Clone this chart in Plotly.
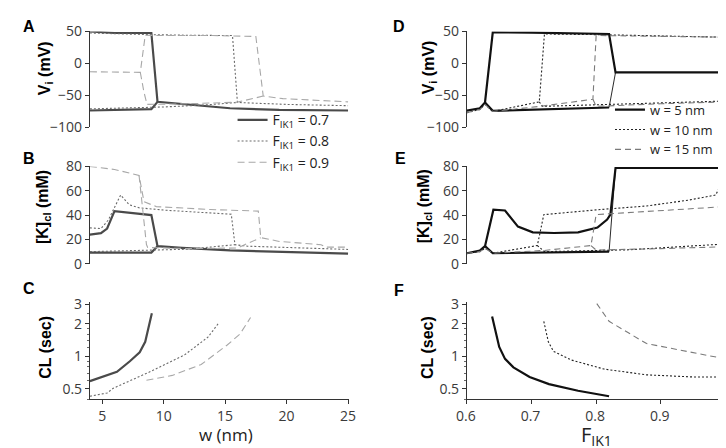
import plotly.graph_objects as go

# ---------------- data: left column (x = w in nm) ----------------
# Panel A: V_i (mV) for F_IK1 = 0.7 / 0.8 / 0.9 (upper = max, lower = min of oscillation)
A07_up_w = [4, 5, 6, 7, 8, 9, 9.5, 11.5, 15.4, 19.4, 25]
A07_up_v = [50, 48.5, 47.5, 47.5, 47.5, 47.5, -60, -63, -70, -72.5, -73.5]
A07_lo_w = [4, 6, 9, 9.5]
A07_lo_v = [-73.5, -72.5, -71.5, -60]

A08_up_w = [4, 6, 8.8, 12, 15.6, 16, 18, 20, 25]
A08_up_v = [47.5, 46, 45, 44, 43.5, -61, -63, -64, -66]
A08_lo_w = [4, 8, 10, 13.3, 16]
A08_lo_v = [-71, -69.5, -68, -65, -61]

A09_up_w = [4, 6, 8.1, 8.3, 8.5, 9.4, 14, 17.5, 18.1, 19.7, 22, 25]
A09_up_v = [-13, -13.5, -14, 15, 44, 43.6, 43.6, 42, -51, -55, -57, -60]
A09_lo_w = [8.1, 8.4, 8.65, 12, 16, 18.1]
A09_lo_v = [-14, -45, -64, -63, -60.5, -51]

# Panel B: [K]cl (mM)
B07_up_w = [4, 4.9, 5.4, 5.8, 6, 9, 9.5, 11.5, 15.4, 25]
B07_up_k = [24, 25.2, 29, 39, 43.3, 40, 14.5, 13.1, 11, 8.4]
B07_lo_w = [4, 9, 9.5]
B07_lo_k = [9.2, 9.2, 14.5]

B08_up_w = [4, 4.9, 5.5, 6.5, 7.2, 8, 10.2, 13.8, 15.5, 15.8, 16.8, 25]
B08_up_k = [29.5, 29, 36, 56.5, 48.5, 46, 44, 42, 40.7, 15.7, 14.5, 11.8]
B08_lo_w = [4, 8, 12, 15.8]
B08_lo_k = [10, 11, 12, 15.7]

B09_up_w = [4, 6, 8, 8.4, 9.4, 13.8, 17.7, 17.9, 19.4, 22.8, 23.2, 25]
B09_up_k = [80, 77.5, 72.6, 51, 47, 44.6, 43.3, 21.5, 18.4, 15.7, 13.7, 13.7]
B09_lo_w = [8, 8.3, 8.6, 8.7, 12, 16, 17.9]
B09_lo_k = [72.6, 45, 15.8, 13.4, 12.5, 13, 21.5]

# Panel C: CL (sec)
C07_w = [4, 5.4, 6.2, 7.25, 8.05, 8.5, 9.04]
C07_cl = [0.59, 0.665, 0.72, 0.9, 1.09, 1.36, 2.5]
C08_w = [4, 5.4, 5.9, 8.8, 11.7, 13.6, 14.5]
C08_cl = [0.428, 0.458, 0.507, 0.712, 1.03, 1.5, 2.04]
C09_w = [8.6, 10.7, 13.05, 15.17, 16.2, 17.07]
C09_cl = [0.6, 0.666, 0.84, 1.27, 1.6, 2.28]

# ---------------- data: right column (x = F_IK1) ----------------
D5_up_f = [0.6, 0.62, 0.628, 0.64, 0.7, 0.76, 0.82, 0.83, 1.0]
D5_up_v = [-73.6, -70, -61, 48.5, 48, 47, 46, -14, -14]
D5_lo_f = [0.628, 0.64, 0.82]
D5_lo_v = [-61, -74, -68.8]
D5_jump_f = [0.82, 0.83]
D5_jump_v = [-68.8, -14]

D10_up_f = [0.6, 0.62, 0.628, 0.64, 0.712, 0.72, 0.8, 0.9, 0.993, 1.0]
D10_up_v = [-77, -72, -64, -75, -60, 46, 45, 43, 41, -56]
D10_lo_f = [0.712, 0.717, 0.993, 1.0]
D10_lo_v = [-60, -67, -59, -56]

D15_up_f = [0.6, 0.62, 0.628, 0.64, 0.714, 0.795, 0.8, 0.9, 1.0]
D15_up_v = [-77, -72, -64, -75, -67, -56, 43.6, 42.5, 41]
D15_lo_f = [0.795, 0.8, 0.9, 1.0]
D15_lo_v = [-56, -67, -63, -60]

E5_up_f = [0.6, 0.62, 0.628, 0.641, 0.659, 0.679, 0.702, 0.735, 0.772, 0.802, 0.817, 0.822, 0.83, 1.0]
E5_up_k = [8.7, 10.8, 14.5, 44.4, 43.8, 30.6, 25.9, 25.3, 25.9, 29.8, 36.4, 40.4, 78.7, 78.7]
E5_lo_f = [0.628, 0.64, 0.82]
E5_lo_k = [14.5, 8.7, 10]
E5_jump_f = [0.82, 0.83]
E5_jump_k = [10, 78.7]

E10_up_f = [0.6, 0.62, 0.628, 0.64, 0.709, 0.719, 0.802, 0.878, 0.943, 0.985, 0.998]
E10_up_k = [8.7, 10, 12.7, 8.7, 15, 40.4, 44.4, 47.5, 52.3, 56.5, 70.7]
E10_lo_f = [0.709, 0.72, 0.85, 0.99, 0.998]
E10_lo_k = [15, 10, 11.5, 16, 70.7]

E15_up_f = [0.6, 0.62, 0.628, 0.64, 0.72, 0.792, 0.8, 0.9, 1.0]
E15_up_k = [8.7, 10, 12.7, 8.7, 11, 15, 40.4, 43.5, 47]
E15_lo_f = [0.792, 0.8, 0.9, 1.0]
E15_lo_k = [15, 11.3, 12.5, 14]

F5_f = [0.639, 0.650, 0.659, 0.672, 0.697, 0.727, 0.772, 0.82]
F5_cl = [2.33, 1.22, 0.946, 0.79, 0.643, 0.554, 0.481, 0.428]
F10_f = [0.719, 0.726, 0.734, 0.762, 0.812, 0.878, 0.953, 0.991]
F10_cl = [2.1, 1.36, 1.11, 0.922, 0.762, 0.674, 0.643, 0.643]
F15_f = [0.801, 0.82, 0.878, 0.953, 1.0]
F15_cl = [3.06, 2.1, 1.31, 1.07, 0.946]

left_names = ["F<sub>IK1</sub> = 0.7", "F<sub>IK1</sub> = 0.8", "F<sub>IK1</sub> = 0.9"]
right_names = ["w = 5 nm", "w = 10 nm", "w = 15 nm"]
x_ticks_left = [5, 10, 15, 20, 25]
x_ticks_right = [0.6, 0.7, 0.8, 0.9, 1.0]
x_ticklabels_right = ["0.6", "0.7", "0.8", "0.9", "1"]

# ---------------- styles ----------------
L_STY = [dict(color="#4a4a4a", width=2.2, dash="solid"),
         dict(color="#6a6a6a", width=1.1, dash="2px,2px"),
         dict(color="#a8a8a8", width=1.1, dash="7px,4px")]
R_STY = [dict(color="#111111", width=2.2, dash="solid"),
         dict(color="#222222", width=1.1, dash="2px,2px"),
         dict(color="#7a7a7a", width=1.1, dash="6px,4px")]

W, H = 726, 448
fig = go.Figure()


def add(x, y, ax, sty, name=None, legend=None, show=False, width=None):
    line = dict(sty)
    if width is not None:
        line["width"] = width
    fig.add_trace(go.Scatter(
        x=x, y=y, mode="lines", line=line,
        xaxis="x" + ("" if ax == 1 else str(ax)),
        yaxis="y" + ("" if ax == 1 else str(ax)),
        name=name, showlegend=show,
        legend=legend if legend else "legend",
        hoverinfo="skip"))


# left column
add(A07_up_w, A07_up_v, 1, L_STY[0], left_names[0], "legend", True)
add(A07_lo_w, A07_lo_v, 1, L_STY[0])
add(A08_up_w, A08_up_v, 1, L_STY[1], left_names[1], "legend", True)
add(A08_lo_w, A08_lo_v, 1, L_STY[1])
add(A09_up_w, A09_up_v, 1, L_STY[2], left_names[2], "legend", True)
add(A09_lo_w, A09_lo_v, 1, L_STY[2])

add(B07_up_w, B07_up_k, 2, L_STY[0])
add(B07_lo_w, B07_lo_k, 2, L_STY[0])
add(B08_up_w, B08_up_k, 2, L_STY[1])
add(B08_lo_w, B08_lo_k, 2, L_STY[1])
add(B09_up_w, B09_up_k, 2, L_STY[2])
add(B09_lo_w, B09_lo_k, 2, L_STY[2])

add(C07_w, C07_cl, 3, L_STY[0])
add(C08_w, C08_cl, 3, L_STY[1])
add(C09_w, C09_cl, 3, L_STY[2])

# right column
add(D5_up_f, D5_up_v, 4, R_STY[0], right_names[0], "legend2", True)
add(D5_lo_f, D5_lo_v, 4, R_STY[0])
add(D5_jump_f, D5_jump_v, 4, R_STY[0], width=0.9)
add(D10_up_f, D10_up_v, 4, R_STY[1], right_names[1], "legend2", True)
add(D10_lo_f, D10_lo_v, 4, R_STY[1])
add(D15_up_f, D15_up_v, 4, R_STY[2], right_names[2], "legend2", True)
add(D15_lo_f, D15_lo_v, 4, R_STY[2])

add(E5_up_f, E5_up_k, 5, R_STY[0])
add(E5_lo_f, E5_lo_k, 5, R_STY[0])
add(E5_jump_f, E5_jump_k, 5, R_STY[0], width=0.9)
add(E10_up_f, E10_up_k, 5, R_STY[1])
add(E10_lo_f, E10_lo_k, 5, R_STY[1])
add(E15_up_f, E15_up_k, 5, R_STY[2])
add(E15_lo_f, E15_lo_k, 5, R_STY[2])

add(F5_f, F5_cl, 6, R_STY[0])
add(F10_f, F10_cl, 6, R_STY[1])
add(F15_f, F15_cl, 6, R_STY[2])

# ---------------- layout ----------------
FONT = "Open Sans, Arial, sans-serif"
TICKF = dict(family=FONT, size=14, color="#3a3a3a")
AXC = "#333333"


def px_x(p):
    return p / W


def px_y(p):
    return 1 - p / H


XL = [px_x(72.7), px_x(338.3)]
XR = [px_x(459.3), px_x(725.0)]
YA = [px_y(114.3), px_y(14.0)]
YB = [px_y(256.7), px_y(155.0)]
YC = [px_y(398.3), px_y(297.0)]

hidden_x = dict(visible=False, showgrid=False, zeroline=False)
yax_common = dict(showline=True, linecolor=AXC, linewidth=1, ticks="outside", ticklen=4,
                  tickcolor=AXC, tickfont=TICKF, showgrid=False, zeroline=False)
xax_common = dict(showline=True, linecolor=AXC, linewidth=1, ticks="outside", ticklen=4,
                  tickcolor=AXC, tickfont=TICKF, showgrid=False, zeroline=False)
minor_log = dict(ticks="outside", ticklen=2, tickcolor="#666",
                 tickvals=[0.4, 0.6, 0.7, 0.8, 0.9, 1.2, 1.4, 1.6, 1.8, 2.5])

fig.update_layout(
    width=W, height=H, margin=dict(l=0, r=0, t=0, b=0),
    paper_bgcolor="white", plot_bgcolor="white",
    xaxis=dict(hidden_x, domain=XL, range=[4, 25.07], anchor="y"),
    xaxis2=dict(hidden_x, domain=XL, range=[4, 25.07], anchor="y2"),
    xaxis3=dict(xax_common, domain=XL, range=[4, 25.07], anchor="y3",
                tickvals=x_ticks_left),
    xaxis4=dict(hidden_x, domain=XR, range=[0.6, 1.001], anchor="y4"),
    xaxis5=dict(hidden_x, domain=XR, range=[0.6, 1.001], anchor="y5"),
    xaxis6=dict(xax_common, domain=XR, range=[0.6, 1.001], anchor="y6",
                tickvals=x_ticks_right, ticktext=x_ticklabels_right, ticklabelshift=-1),
    yaxis=dict(yax_common, domain=YA, range=[-100, 50], anchor="x",
               tickvals=[-100, -50, 0, 50]),
    yaxis2=dict(yax_common, domain=YB, range=[0, 80], anchor="x2",
                tickvals=[0, 20, 40, 60, 80]),
    yaxis3=dict(yax_common, domain=YC, type="log", range=[-0.398, 0.497], anchor="x3",
                tickvals=[0.5, 1, 2, 3], ticktext=["0.5", "1", "2", "3"], minor=minor_log),
    yaxis4=dict(yax_common, domain=YA, range=[-100, 50], anchor="x4",
                tickvals=[-100, -50, 0, 50]),
    yaxis5=dict(yax_common, domain=YB, range=[0, 80], anchor="x5",
                tickvals=[0, 20, 40, 60, 80]),
    yaxis6=dict(yax_common, domain=YC, type="log", range=[-0.398, 0.497], anchor="x6",
                tickvals=[0.5, 1, 2, 3], ticktext=["0.5", "1", "2", "3"], minor=minor_log),
    legend=dict(x=px_x(219), y=px_y(90), xanchor="left", yanchor="top",
                bgcolor="rgba(0,0,0,0)", font=dict(family=FONT, size=14, color="#222"),
                tracegroupgap=0, itemwidth=30),
    legend2=dict(x=px_x(606), y=px_y(80), xanchor="left", yanchor="top",
                 bgcolor="rgba(0,0,0,0)", font=dict(family=FONT, size=13, color="#222"),
                 tracegroupgap=0, itemwidth=30),
)

ann = []
# panel letters
for t, x, y in [("A", 10, 9), ("B", 10, 147), ("C", 10, 283),
                ("D", 390, 9), ("E", 391, 147), ("F", 390, 285)]:
    ann.append(dict(text="<b>%s</b>" % t, x=px_x(x), y=px_y(y), xref="paper", yref="paper",
                    showarrow=False, xanchor="center", yanchor="middle",
                    font=dict(family="Liberation Sans, Arial", size=16, color="black")))
# y titles
ytitles = [("V<sub>i</sub> (mV)", 27, 52), ("[K]<sub>cl</sub> (mM)", 25, 197), ("CL (sec)", 27, 344),
           ("V<sub>i</sub> (mV)", 421, 52), ("[K]<sub>cl</sub> (mM)", 416, 197), ("CL (sec)", 419, 344)]
for t, x, y in ytitles:
    ann.append(dict(text="<b>%s</b>" % t, x=px_x(x), y=px_y(y), xref="paper", yref="paper",
                    showarrow=False, textangle=-90, xanchor="center", yanchor="middle",
                    font=dict(family="Liberation Sans, Arial", size=16, color="black")))
# x titles
ann.append(dict(text="w (nm)", x=px_x(212), y=px_y(435), xref="paper", yref="paper",
                showarrow=False, xanchor="center", yanchor="middle",
                font=dict(family=FONT, size=17, color="#222")))
ann.append(dict(text="F<sub>IK1</sub>", x=px_x(592), y=px_y(436), xref="paper", yref="paper",
                showarrow=False, xanchor="center", yanchor="middle",
                font=dict(family=FONT, size=20, color="#222")))
fig.update_layout(annotations=ann)

fig.write_html("out.html")
